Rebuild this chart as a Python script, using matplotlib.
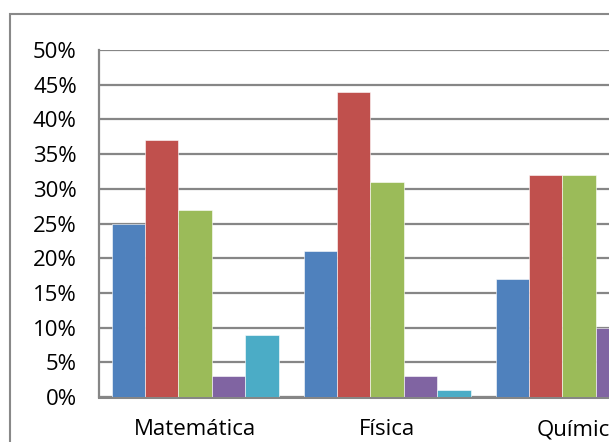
import numpy as np
import matplotlib.pyplot as plt
from matplotlib.patches import Rectangle

plt.rcParams['font.family'] = ['Open Sans', 'DejaVu Sans']

categories = ['Matemática', 'Física', 'Química']
serie_1 = [25, 21, 17]
serie_2 = [37, 44, 32]
serie_3 = [27, 31, 32]
serie_4 = [3, 3, 10]
serie_5 = [9, 1, np.nan]
y_ticks = [0, 5, 10, 15, 20, 25, 30, 35, 40, 45, 50]

series = [serie_1, serie_2, serie_3, serie_4, serie_5]
colors = ['#4F81BD', '#C0504D', '#9BBB59', '#8064A2', '#4BACC6']

W, H = 609, 442
fig = plt.figure(figsize=(W / 100, H / 100), dpi=100)

# outer chart frame (runs off the right and bottom edges)
fig.patches.append(Rectangle((10 / W, -0.1), 1.2, (442 - 14) / H + 0.1,
                             transform=fig.transFigure, fill=False,
                             edgecolor='#898989', linewidth=1.5))

left, right, bottom, top = 99, 640, 397, 50
ax = fig.add_axes([left / W, 1 - bottom / H, (right - left) / W, (bottom - top) / H])

group_px = 192
bar_w = 33.4 / group_px
x = np.arange(len(categories))
offsets = (np.arange(5) - 2) * bar_w
for vals, off, c in zip(series, offsets, colors):
    ax.bar(x + off, vals, width=bar_w, color=c, edgecolor='#ffffff',
           linewidth=0.4, zorder=3)

ax.set_xlim(-0.5, -0.5 + (right - left) / group_px)
ax.set_ylim(0, 50)
ax.set_yticks(y_ticks)
ax.set_yticklabels([f'{t}%' for t in y_ticks])
ax.set_xticks(x)
ax.set_xticklabels(categories)
ax.tick_params(axis='both', length=0, labelsize=16, colors='#000000')
ax.tick_params(axis='y', pad=16)
ax.tick_params(axis='x', pad=16)

ax.yaxis.grid(True, color='#868686', linewidth=1.6, zorder=0)
ax.set_axisbelow(True)
for s in ['top', 'right']:
    ax.spines[s].set_visible(False)
ax.spines['left'].set_color('#868686')
ax.spines['left'].set_linewidth(1.6)
ax.spines['bottom'].set_color('#868686')
ax.spines['bottom'].set_linewidth(2.2)

fig.savefig('out.png', dpi=100)
